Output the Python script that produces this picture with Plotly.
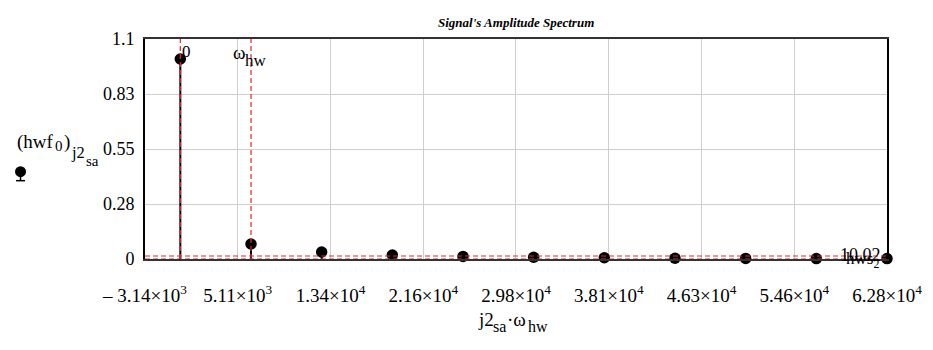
import math
import plotly.graph_objects as go

# ---- data ----
omega_hw = 2 * math.pi * 1000          # rad/s
harmonic_index = list(range(11))        # j2_sa
amplitudes = [1.0, 0.075, 0.035, 0.020, 0.013, 0.009, 0.006, 0.004, 0.003, 0.002, 0.002]
x_tick_vals = [-3141.59, 5105.09, 13351.77, 21598.45, 29845.13, 38091.81, 46338.49, 54585.17, 62831.85]
x_tick_text = ["\u2013 3.14\u00d710<sup>3</sup>", "5.11\u00d710<sup>3</sup>", "1.34\u00d710<sup>4</sup>",
               "2.16\u00d710<sup>4</sup>", "2.98\u00d710<sup>4</sup>", "3.81\u00d710<sup>4</sup>",
               "4.63\u00d710<sup>4</sup>", "5.46\u00d710<sup>4</sup>", "6.28\u00d710<sup>4</sup>"]
y_tick_vals = [0, 0.275, 0.55, 0.825, 1.1]
y_tick_text = ["0", "0.28", "0.55", "0.83", "1.1"]
marker_x = [0, omega_hw]                # vertical markers
marker_y = [0.015, 0.0]                 # horizontal markers
marker_y_labels = ["10.02", "hws<sub>2</sub>"]

x_range = [-1000 * math.pi, 20000 * math.pi + 1]
y_range = [0, 1.1]

freqs = [k * omega_hw for k in harmonic_index]

FONT = "Liberation Serif"

# plot area in pixels
L, R, T, B = 144.5, 886.7, 39.0, 259.5
W, H = 933, 350

def px(xp):
    return (xp - L) / (R - L)

def py(yp):
    return (B - yp) / (B - T)

stem_x, stem_y = [], []
for f, a in zip(freqs, amplitudes):
    stem_x += [f, f, None]
    stem_y += [0, a, None]

fig = go.Figure()
fig.add_trace(go.Scatter(x=stem_x, y=stem_y, mode="lines",
                         line=dict(color="black", width=2), hoverinfo="skip", showlegend=False))
fig.add_trace(go.Scatter(x=freqs, y=amplitudes, mode="markers",
                         marker=dict(color="black", size=11.5), showlegend=False, cliponaxis=False))

RED = "#e8262a"
shapes = []
for xv in marker_x:
    shapes.append(dict(type="line", xref="x", yref="paper", x0=xv, x1=xv, y0=0, y1=1,
                       line=dict(color=RED, width=1.2, dash="5px,3px"), layer="above"))
for yv in marker_y:
    shapes.append(dict(type="line", xref="paper", yref="y", x0=0, x1=1, y0=yv, y1=yv,
                       line=dict(color=RED, width=1.2, dash="5px,3px"), layer="above"))
# legend symbol (dot with stem)
shapes.append(dict(type="circle", xref="paper", yref="paper",
                   x0=px(14.5), x1=px(25.5), y0=py(166.5), y1=py(177.5),
                   fillcolor="black", line=dict(color="black", width=0)))
shapes.append(dict(type="line", xref="paper", yref="paper",
                   x0=px(20), x1=px(20), y0=py(172), y1=py(181),
                   line=dict(color="black", width=1.5)))
shapes.append(dict(type="line", xref="paper", yref="paper",
                   x0=px(15.5), x1=px(24.5), y0=py(181), y1=py(181),
                   line=dict(color="black", width=1.5)))

def ann(text, x, y, size, xanchor="left", xref="paper", xshift=0):
    return dict(text=text, xref=xref, yref="paper", x=x, y=py(y), showarrow=False,
                xanchor=xanchor, yanchor="middle", xshift=xshift,
                font=dict(family=FONT, size=size, color="black"))

annotations = [
    ann("<b><i>Signal's Amplitude Spectrum</i></b>", px(516), 22, 13, xanchor="center"),
    # y-axis label pieces: (hwf0)j2sa
    ann("(hwf", px(14), 142, 19),
    ann("0", px(52), 146, 15),
    ann(")", px(61.5), 142, 19),
    ann("j2", px(68), 153, 16.5),
    ann("sa", px(83), 161, 15),
    # x-axis label
    ann("j2", px(476), 320, 19),
    ann("sa", px(491), 327, 16),
    ann("\u00b7\u03c9", px(505), 320, 19),
    ann("hw", px(526), 327, 16),
    # marker labels
    ann("0", marker_x[0], 52, 17, xref="x", xshift=0),
    ann("\u03c9", marker_x[1], 53, 19, xref="x", xshift=-20),
    ann("hw", marker_x[1], 61, 17, xref="x", xshift=-8),
    ann(marker_y_labels[0], px(883), 255, 18, xanchor="right"),
    ann(marker_y_labels[1], px(881), 261, 17, xanchor="right"),
]

fig.update_layout(
    width=W, height=H,
    margin=dict(l=L, r=W - R, t=T, b=H - B, pad=0),
    paper_bgcolor="white", plot_bgcolor="white",
    showlegend=False,
    shapes=shapes, annotations=annotations,
    font=dict(family=FONT, size=18, color="black"),
)
fig.update_xaxes(range=x_range, tickvals=x_tick_vals, ticktext=x_tick_text,
                 showgrid=True, gridcolor="#cfcfcf", gridwidth=1,
                 showline=True, linecolor="#333333", linewidth=2, mirror=True,
                 zeroline=False, ticks="", ticklabelstandoff=18,
                 tickfont=dict(family=FONT, size=19, color="black"))
fig.update_yaxes(range=y_range, tickvals=y_tick_vals, ticktext=y_tick_text,
                 showgrid=True, gridcolor="#cfcfcf", gridwidth=1,
                 showline=True, linecolor="black", linewidth=2, mirror=True,
                 zeroline=False, ticks="", ticklabelstandoff=5,
                 tickfont=dict(family=FONT, size=18, color="black"))

fig.write_html("out.html")
